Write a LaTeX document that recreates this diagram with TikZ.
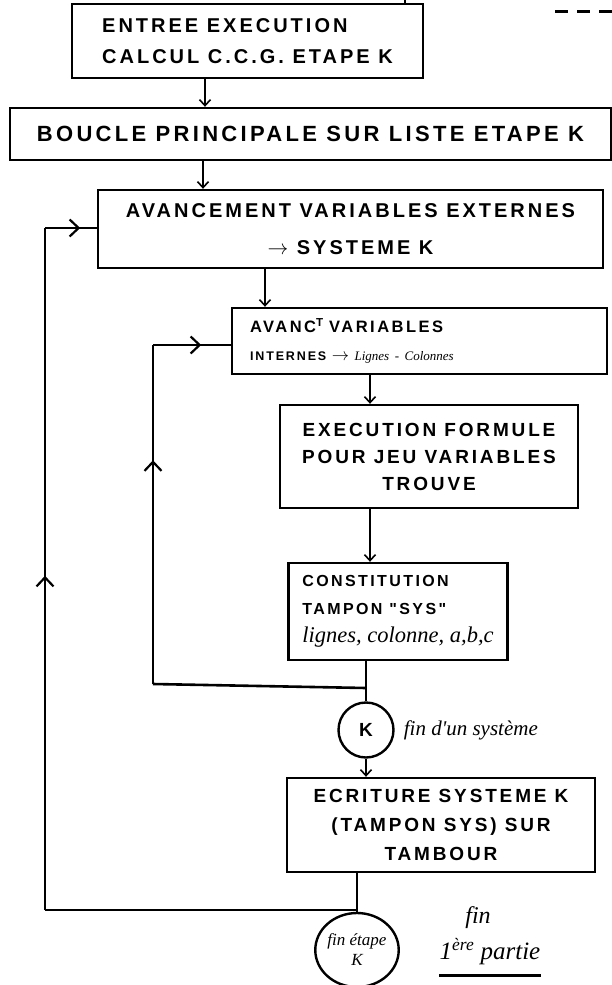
\documentclass[tikz,border=0pt]{standalone}
\usepackage{fontspec}
\newfontfamily\hand{Liberation Sans}[LetterSpace=15, UprightFont=*-Bold]
\newfontfamily\scrawl{Liberation Serif}
\newcommand{\setfs}[2]{\fontsize{#1}{#2}\selectfont}
\usetikzlibrary{positioning, arrows.meta, shapes.geometric, decorations.markings}

\begin{document}
\begin{tikzpicture}[
  x=1pt, y=-1pt,
  box/.style={draw, line width=2.4pt, inner sep=0pt, align=center},
  flow/.style={line width=1.6pt, -{Straight Barb[length=6pt,width=11pt]}},
  wire/.style={line width=2.6pt},
  midhead/.style={postaction={decorate}, decoration={markings,
    mark=at position #1 with {\arrow{Straight Barb[length=9pt,width=17pt,line width=2.2pt]}}}},
  note/.style={font=\scrawl\itshape\setfs{21}{24}, inner sep=0pt},
]
  \useasboundingbox (0,0) rectangle (612,985);

  % boxes
  \node[box, minimum width=351, minimum height=74, align=left, font=\hand\setfs{20}{31}] (entree) at (247.5,41)
    {ENTREE EXECUTION\\CALCUL C.C.G. ETAPE K};
  \node[box, minimum width=601, minimum height=52, font=\hand\setfs{22}{25}] (boucle) at (310.5,134)
    {BOUCLE PRINCIPALE SUR LISTE ETAPE K};
  \node[box, minimum width=505, minimum height=78, font=\hand\setfs{20}{37}] (avext) at (350.5,229)
    {AVANCEMENT VARIABLES EXTERNES\\$\rightarrow$ SYSTEME K};
  \node[box, minimum width=375, minimum height=66, text width=339, inner xsep=18, align=left,
        font=\hand\setfs{16.5}{28}] (avint) at (419.5,341)
    {AVANC\textsuperscript{T} VARIABLES\\{\setfs{12.5}{28}INTERNES} $\rightarrow$ {\scrawl\itshape\setfs{13}{28}Lignes - Colonnes}};
  \node[box, minimum width=298, minimum height=103, font=\hand\setfs{19}{27}] (formule) at (429,456.5)
    {EXECUTION FORMULE\\POUR JEU VARIABLES\\TROUVE};
  \node[box, minimum width=219, minimum height=97, align=left, font=\hand\setfs{16}{28}] (tampon) at (398,611.5)
    {CONSTITUTION\\TAMPON "SYS"\\{\scrawl\itshape\setfs{22.5}{30}lignes, colonne, a,b,c}};
  \node[circle, draw, line width=2.4pt, minimum size=55, inner sep=0pt, font=\hand\setfs{19}{20}] (kc) at (366,730) {K};
  \node[note, right=9pt of kc] (finsys) {fin d'un système};
  \node[box, minimum width=308, minimum height=94, font=\hand\setfs{19}{29}] (ecrit) at (441,825)
    {ECRITURE SYSTEME K\\(TAMPON SYS) SUR\\TAMBOUR};
  \node[ellipse, draw, line width=2.4pt, minimum width=80, minimum height=74, inner sep=0pt, align=center,
        font=\scrawl\itshape\setfs{17}{20}] (fetape) at (357,950) {fin étape\\K};
  \node[note, font=\scrawl\itshape\setfs{24}{26}] (finlbl) at (478,918) {fin};
  \node[note, font=\scrawl\itshape\setfs{25}{28}] (partie) at (490,952) {1\textsuperscript{ère} partie};
  \draw[line width=3.5pt] ([yshift=-10pt]partie.south west) -- ([yshift=-10pt]partie.south east);

  % columns and corners
  \coordinate (top) at (405,0);
  \coordinate (c1) at (205,0);
  \coordinate (c2) at (203,0);
  \coordinate (c3) at (265,0);
  \coordinate (c4) at (370,0);
  \coordinate (j1) at (366,688);
  \coordinate (i1) at (153,684);
  \coordinate (i2) at (153,345);
  \coordinate (j2) at (357,910);
  \coordinate (o1) at (45,910);
  \coordinate (o2) at (45,228);
  \coordinate (d0) at (555,11);
  \coordinate (d1) at (612,11);

  \draw[wire] (top) -- (top |- entree.north);
  \draw[line width=3pt, dash pattern=on 13pt off 9pt] (d0) -- (d1);

  \draw[flow] (entree.south -| c1) -- (boucle.north -| c1);
  \draw[flow] (boucle.south -| c2) -- (avext.north -| c2);
  \draw[flow] (avext.south -| c3) -- (avint.north -| c3);
  \draw[flow] (avint.south -| c4) -- (formule.north -| c4);
  \draw[flow] (formule.south -| c4) -- (tampon.north -| c4);
  \draw[wire] (tampon.south -| j1) -- (j1) -- (kc.north);
  \draw[flow] (kc.south) -- (ecrit.north -| kc);
  \draw[wire] (ecrit.south -| j2) -- (j2) -- (fetape.north);

  % inner loop
  \draw[wire] (j1) -- (i1);
  \draw[wire, midhead=0.66] (i1) -- (i2);
  \draw[wire, midhead=0.62] (i2) -- (avint.west |- i2);

  % outer loop
  \draw[wire] (j2) -- (o1);
  \draw[wire, midhead=0.49] (o1) -- (o2);
  \draw[wire, midhead=0.68] (o2) -- (avext.west |- o2);
\end{tikzpicture}
\end{document}
